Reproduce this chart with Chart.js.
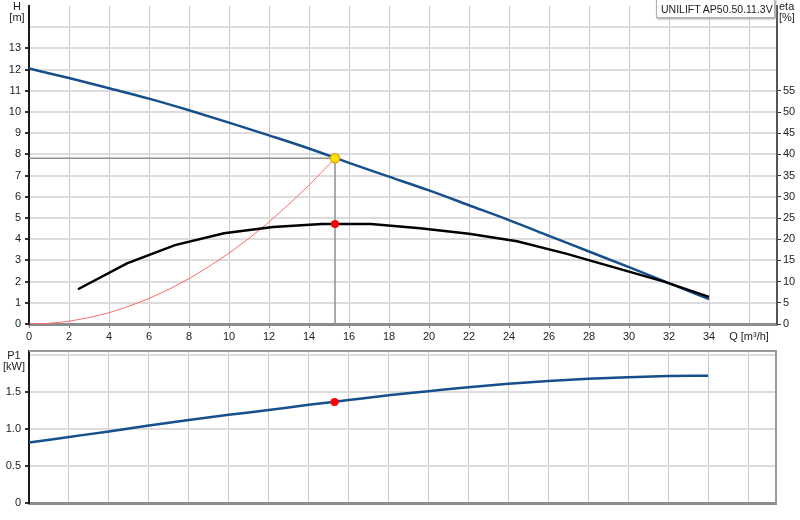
<!DOCTYPE html>
<html>
<head>
<meta charset="utf-8">
<script src="https://cdn.jsdelivr.net/npm/chart.js@4.4.0/dist/chart.umd.min.js"></script>
<style>
  body { margin: 0; background: #fff; width: 800px; height: 520px; overflow: hidden; position: relative;
         font-family: "Liberation Sans", Arial, sans-serif; }
  canvas { position: absolute; left: 0; }
  #topChart { top: 0; }
  #bottomChart { top: 345px; }
  .lbl { position: absolute; font-size: 11px; line-height: 11px; color: #222; }
  #pumpBox { position: absolute; left: 656px; top: -1px; width: 119px; height: 19px; background: #fff;
             border: 1px solid #b0b0b0; box-shadow: 1px 1px 2px #999; font-size: 10.5px; line-height: 19px;
             color: #222; padding-left: 4px; box-sizing: border-box; white-space: nowrap; overflow: hidden; }
</style>
</head>
<body>
<canvas id="topChart" width="800" height="345"></canvas>
<canvas id="bottomChart" width="800" height="175"></canvas>
<div class="lbl" style="left:5px;top:1px;width:24px;text-align:center">H<br>[m]</div>
<div class="lbl" style="left:779px;top:1px">eta<br>[%]</div>
<div class="lbl" style="left:2px;top:350px;width:24px;text-align:center">P1<br>[kW]</div>
<div id="pumpBox">UNILIFT AP50.50.11.3V</div>
<script>
// axis ranges
const qMax = 37.4;
const hMax = 15;
const etaMax = 75;
const p1Max = 2.06;

// pump curve H(Q)
const qHead = [0, 2, 4, 6, 8, 10, 12, 14, 16, 18, 20, 22, 24, 26, 28, 30, 32, 34];
const head = [12.05, 11.6, 11.12, 10.63, 10.08, 9.5, 8.9, 8.28, 7.6, 6.95, 6.3, 5.6, 4.9, 4.16, 3.42, 2.68, 1.93, 1.17];

// efficiency eta(Q)
const qEta = [2.45, 4.9, 7.3, 9.75, 12.2, 14.65, 17.1, 19.55, 22.0, 24.4, 26.85, 29.3, 31.75, 34];
const eta = [8.2, 14.3, 18.6, 21.4, 22.9, 23.6, 23.6, 22.6, 21.3, 19.5, 16.6, 13.3, 10.0, 6.4];

// system curve
const qSys = [0, 1, 2, 3, 4, 5, 6, 7, 8, 9, 10, 11, 12, 13, 14, 15, 15.3];
const hSys = [0, 0.03, 0.13, 0.3, 0.53, 0.84, 1.2, 1.64, 2.14, 2.71, 3.34, 4.04, 4.81, 5.65, 6.55, 7.52, 7.82];

// power input P1(Q)
const qPower = [0, 2, 4, 6, 8, 10, 12, 14, 16, 18, 20, 22, 24, 26, 28, 30, 32, 34];
const power = [0.82, 0.895, 0.97, 1.05, 1.125, 1.195, 1.26, 1.33, 1.395, 1.46, 1.515, 1.57, 1.615, 1.655, 1.685, 1.705, 1.72, 1.725];

// duty point
const dutyQ = 15.3;
const dutyH = 7.82;
const dutyEta = 23.6;
const dutyP1 = 1.37;

const xy = (xs, ys) => xs.map((x, i) => ({ x: x, y: ys[i] }));

Chart.defaults.font.family = '"Liberation Sans", Arial, sans-serif';
Chart.defaults.font.size = 11;
Chart.defaults.color = '#222';

const BLUE = '#164f8c';
const hideAbove = (lim, col) => c => (c.tick && c.tick.value > lim) ? 'rgba(0,0,0,0)' : col;

const baseOptions = {
    responsive: false,
    animation: false,
    events: [],
    plugins: { legend: { display: false }, tooltip: { enabled: false } },
    elements: { point: { radius: 0 }, line: { tension: 0 } }
};

// upper diagram: H and eta
new Chart(document.getElementById('topChart'), {
    type: 'line',
    data: {
        datasets: [
            { data: [{ x: dutyQ, y: dutyH }], yAxisID: 'y', showLine: false,
              pointRadius: 4.5, pointBackgroundColor: '#ffe600', pointBorderColor: '#f0a000', pointBorderWidth: 1.5 },
            { data: [{ x: dutyQ, y: dutyEta }], yAxisID: 'y2', showLine: false,
              pointRadius: 4, pointBackgroundColor: '#ff0000', pointBorderWidth: 0 },
            { data: xy(qEta, eta), yAxisID: 'y2', borderColor: '#000', borderWidth: 2.5 },
            { data: xy(qHead, head), yAxisID: 'y', borderColor: BLUE, borderWidth: 2.5, cubicInterpolationMode: 'monotone' },
            { data: xy(qSys, hSys), yAxisID: 'y', borderColor: '#ff6a6a', borderWidth: 1 },
            { data: [{ x: 0, y: dutyH }, { x: dutyQ, y: dutyH }, { x: dutyQ, y: 0 }], yAxisID: 'y',
              borderColor: '#8f8f8f', borderWidth: 1.5 }
        ]
    },
    options: {
        ...baseOptions,
        layout: { padding: 0 },
        scales: {
            x: {
                type: 'linear', min: 0, max: qMax,
                ticks: { stepSize: 2, includeBounds: false, autoSkip: false, maxRotation: 0, padding: 2,
                         callback: v => v === 36 ? 'Q [m³/h]' : v },
                grid: { color: '#c8c8c8', lineWidth: 1, tickLength: 4, tickColor: hideAbove(34, '#777') },
                border: { color: '#8c8c8c', width: 3 },
                afterFit: s => { s.height = 21; s.paddingLeft = 0; s.paddingRight = 0; }
            },
            y: {
                position: 'left', min: 0, max: hMax,
                ticks: { stepSize: 1, padding: 4, callback: v => v <= 13 ? v : '' },
                grid: { color: c => c.tick && c.tick.value === hMax ? 'rgba(0,0,0,0)' : '#dcdcdc',
                        lineWidth: 2, tickLength: 4, tickColor: hideAbove(13, '#333') },
                border: { color: '#1a1a1a', width: 2 },
                afterFit: s => { s.width = 29; s.paddingTop = 0; s.paddingBottom = 0; }
            },
            y2: {
                position: 'right', min: 0, max: etaMax,
                ticks: { stepSize: 5, padding: 2, callback: v => v <= 55 ? v : '' },
                grid: { drawOnChartArea: false, tickLength: 4, tickColor: hideAbove(55, '#333') },
                border: { color: '#555', width: 2 },
                afterFit: s => { s.width = 23; s.paddingTop = 0; s.paddingBottom = 0; }
            }
        }
    }
});

// frame on top and right of the power diagram
const frame = {
    id: 'frame',
    afterDraw(chart) {
        const { ctx, chartArea: a } = chart;
        ctx.save();
        ctx.strokeStyle = '#9a9a9a';
        ctx.lineWidth = 2;
        ctx.beginPath();
        ctx.moveTo(a.left, a.top);
        ctx.lineTo(a.right, a.top);
        ctx.lineTo(a.right, a.bottom);
        ctx.stroke();
        ctx.restore();
    }
};

// lower diagram: P1
new Chart(document.getElementById('bottomChart'), {
    type: 'line',
    data: {
        datasets: [
            { data: [{ x: dutyQ, y: dutyP1 }], showLine: false,
              pointRadius: 4, pointBackgroundColor: '#ff0000', pointBorderWidth: 0 },
            { data: xy(qPower, power), borderColor: BLUE, borderWidth: 2.5, cubicInterpolationMode: 'monotone' }
        ]
    },
    options: {
        ...baseOptions,
        layout: { padding: { top: 6, right: 24, left: 0, bottom: 0 } },
        scales: {
            x: {
                type: 'linear', min: 0, max: qMax,
                ticks: { display: false, stepSize: 2, includeBounds: false },
                grid: { color: '#c8c8c8', lineWidth: 1, drawTicks: false },
                border: { color: '#8c8c8c', width: 3 },
                afterFit: s => { s.height = 17; s.paddingLeft = 0; s.paddingRight = 0; }
            },
            y: {
                position: 'left', min: 0, max: p1Max,
                ticks: { stepSize: 0.5, padding: 4, includeBounds: false,
                         callback: v => v === 0 ? '0' : (v <= 1.5 ? v.toFixed(1) : '') },
                grid: { color: '#dcdcdc', lineWidth: 2, tickLength: 4, tickColor: hideAbove(1.5, '#333') },
                border: { color: '#1a1a1a', width: 2 },
                afterFit: s => { s.width = 29; s.paddingTop = 0; s.paddingBottom = 0; }
            }
        }
    },
    plugins: [frame]
});
</script>
</body>
</html>
